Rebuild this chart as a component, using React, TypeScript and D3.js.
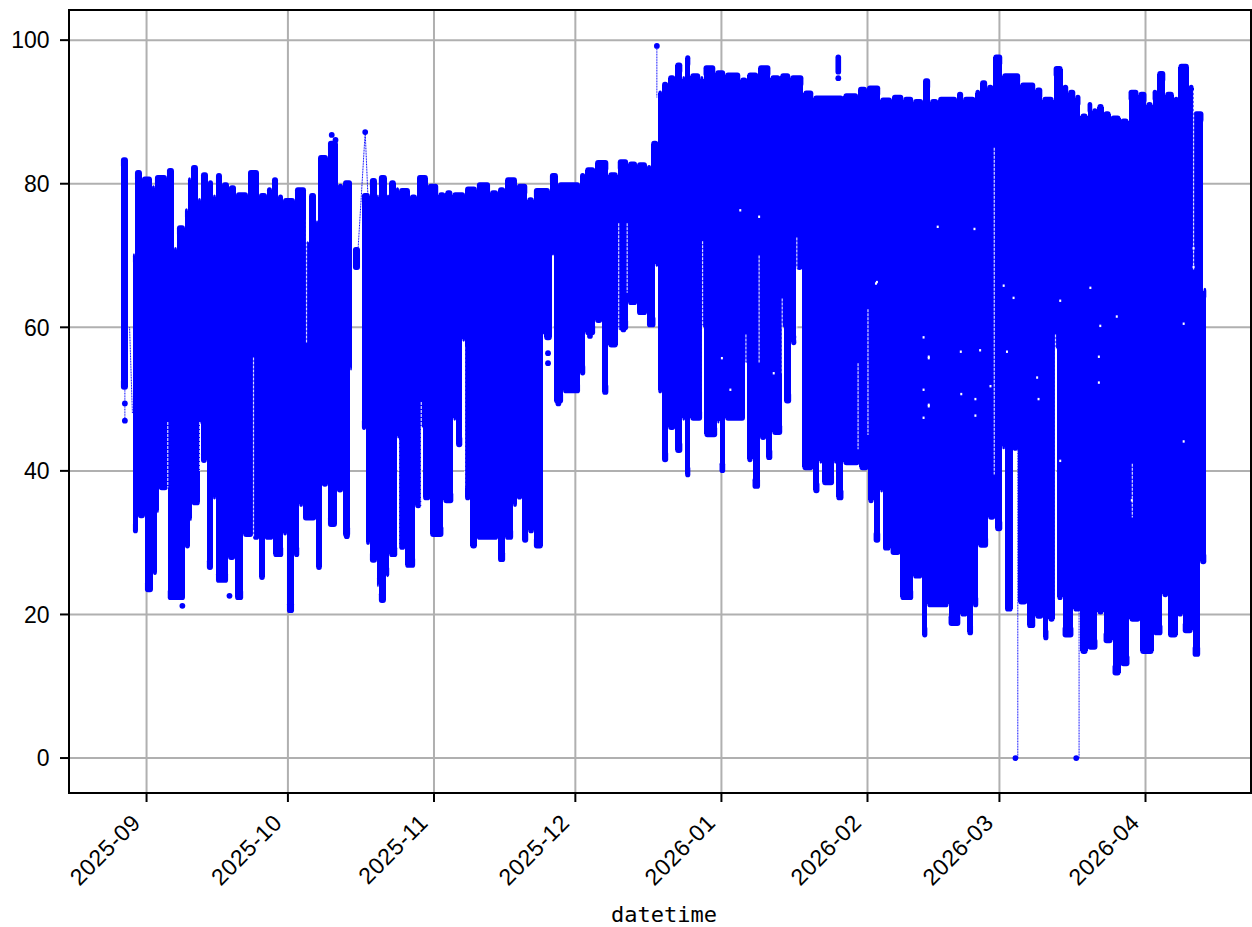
import React from "react";
import * as d3 from "d3";

const startDay = Date.UTC(2025, 8, 1);
const domainStart = new Date(Date.UTC(2025, 7, 15, 13));
const domainEnd = new Date(Date.UTC(2026, 3, 23, 14, 24));
const yMin = -4.87;
const yMax = 104.2;
const yTicks = [0, 20, 40, 60, 80, 100];
const monthTicks = ["2025-09", "2025-10", "2025-11", "2025-12", "2026-01", "2026-02", "2026-03", "2026-04"];

// upper envelope of the readings (days since 2025-09-01); null ends a run
const topDays = [-5.44,-3.95,-2.89,-2.46,-0.98,1.15,1.78,4.33,5.82,6.45,8.15,8.79,9.43,10.91,11.55,13.04,14.1,14.73,16,17.49,18.98,21.53,23.86,25.56,26.62,27.9,28.96,31.5,33.84,34.5,35.96,36.4,38.5,40.6,41.7,43.6,
45.7,47.4,48.9,49.3,51,51.5,52.9,53.6,55.9,57.4,59.7,61.9,63.4,64.9,67.6,70.1,72.9,74.6,76.1,78.6,80.8,82.2,85.6,87.3,92,93.1,95.2,98,100,102.2,104.1,106.2,107.1,108.6,109.4,110.7,112.2,113.7,114.3,115.4,117.5,118.2,120.7,122.8,126,127.5,129.8,132.4,134.5,136.6,139.4,141.5,147.9,151,152.9,155.7,158.2,160.6,162.7,164.8,166.3,168,172,173.3,175.9,176.9,178.4,179.7,181.6,185.4,188.6,190.1,192.5,194.4,195.6,197.1,198.2,199.7,200.7,201.8,203.1,204.6,206.7,208.4,210.5,212.2,213.5,214.5,216.2,218,219,221.2,222.2,224.3,224.9];
const topValues = [83.7,null,70.3,81.9,81,79.8,81.2,82.2,71.2,74.2,76.6,80.9,82.6,78,81.6,80.5,78.5,81.5,80.2,79.8,78.8,81.9,78.7,79.5,80.9,78.5,78,79.5,72,78.7,74.9,84,86,80,80.5,null,
78.7,80.8,78.5,81.2,78.5,80.5,79.5,79.4,78.5,81.2,80,78.8,79.1,78.8,79.6,80.2,79.1,79.5,80.9,80,78.1,79.4,81.5,80.2,81.5,82.3,83.3,81.6,83.4,83.1,83,82.6,86,93,94.2,95.1,96.9,95,97.9,95.4,95,96.5,95.8,95.5,94.8,95.5,96.5,95.1,95.4,95.1,93,92.3,92.6,93.5,93.7,92,92.4,92.1,91.8,94.7,91.8,92.1,92.8,92.1,93.1,94.4,93.8,98,95.4,94.1,93.4,92.1,96.4,93.8,93.1,92.4,89.8,91.4,90.5,91.1,90.1,89.5,89.1,93.1,92.8,91.4,93.1,95.7,92.8,92.1,96.7,93.8,90.1,65.5,null];

// lower envelope of the readings
const bottomDays = [-5.44,-3.95,-2.89,-1.83,-0.34,1.36,2.2,2.6,4.5,8.15,9.2,9.6,11.3,11.55,12.8,14.1,14.73,17.3,18.8,20.5,22.6,23.9,25.1,26.9,29,29.8,31.3,32.4,33.2,36,37.2,38.5,40.4,41.7,43.2,43.6,
45.7,46.6,47.4,48.9,49.3,50.8,51.5,53.2,53.6,54.9,57,58.3,58.7,60.2,63,65.1,65.7,67,67.6,68.7,70.1,74.6,76.1,77.8,78.6,79.7,81,82.2,84.1,84.4,86,86.5,88.4,92,93.1,95.2,96.7,98,100,102.2,104.1,106.2,108,108.6,109.4,110.7,112.2,113.7,114.3,115.4,117.9,118.4,121.1,121.6,122.8,127,127.5,128.6,130.2,131.5,132.8,134.9,135.3,136.8,137.9,139.2,141.5,142.8,143.4,145.9,146.4,147.9,151.3,153.2,154.3,155.7,156.3,157.9,160,162.7,164.6,165.7,170.2,172.7,174.2,175.4,176.5,178.6,180.1,181.6,182.2,183.8,185,186.9,188.6,190.3,191.4,192.7,193.3,194.4,196.7,198.2,199.7,201.8,203.1,205,206.7,208.6,210.9,213.7,215.6,216.8,218.8,219.9,222,223.6,224.9];
const bottomValues = [51.3,null,31.3,33.4,23.1,25.5,34.1,37.3,22,29.2,33,35.2,46.5,41.1,26.2,36,24.4,27.6,22,30.8,30.4,24.8,30.4,28,31,20.2,28,35,33.1,26.2,37.8,32.2,37,30.8,54,null,
45.7,29.7,27.2,23.8,21.6,25.2,28,44.5,29,26.5,34.8,46,35.9,30.8,35.5,47,43.3,58,35.9,29.2,30.4,27.3,30.4,35,36,30,31.3,29.2,59,58.2,70,49.4,50.8,53.3,58.9,60.6,50.6,57.2,59.6,63.1,61.7,60,68.4,50.8,41.2,45.7,42.5,47,39.1,47,60,44.7,46.6,39.7,47,55,41.2,37.5,44.3,41.5,45,60,49.4,57.5,68,40.1,36.9,41,38,41,35.9,40.8,40.1,35.5,30,37,28.9,28.3,22,25,16.8,21,18.4,19.7,17.1,21,29.3,33.2,31.6,43,20.4,42.8,21.4,18.1,19.4,16.4,19,57,22,16.8,20.4,14.5,15.1,20,16,11.5,12.8,19,14.5,17.1,22.4,16.8,19.7,17.4,14.1,27,null];

// runs detached from the envelope: [from day, to day, high, low]
const detachedRuns = [[43.8, 45.3, 71.2, 68], [146.2, 147.4, 98, 95.2]];

// isolated readings: [day, value]
const isolatedPoints = [[-4.6,49.4],[-4.6,47],[39.3,86.8],[40.1,86.1],[46.4,87.2],[108.3,99.2],[146.8,94.7],[184.4,0],[197.3,0],[7.6,21.2],[17.6,22.6],[42.5,30.9],[39.4,32.7],[85.2,56.4],[85.2,55],[87.4,49.4],[94.1,58.8],[101.2,59.7]];

// thin joining lines between readings: [day, value, day, value]
const joinLines = [[-4.6,51.3,-4.6,47],[-3.6,60,-3,48],[44.9,71,46.4,87.2],[46.4,87.2,47,78],[108.3,99.2,108.3,92],[184.4,0,184.9,0],[184.9,0,184.9,47],[197.3,0,197.9,0],[197.9,0,197.9,30]];

// narrow quiet spells showing through: [day, high, low]
const quietSpells = [[33.95,75,57.8],[22.7,55.8,30.8],[4.5,46.8,37.7],[11.3,46.8,40],[53.5,44.3,29],[58.3,49.6,34.5],[67.5,57.3,37.7],[86.2,68.7,56.4],[100.2,74.5,58.6],[102,74.5,64.8],[118,72,50.8],[130,70,55],[134.9,64,53.6],[127.2,59,49],[138,72.5,58],[151,55,43],[153.1,62.5,45],[179.9,85,39.5],[192.9,59,22],[222.2,93,68],[209.2,41,33.5]];

// single missing spots inside the band: [day, value]
const missingSpots = [[167.9,74],[175.7,73.7],[154.8,66.1],[164.9,58.6],[166,55.9],[172.8,56.6],[176.9,56.8],[166,49],[164.9,47.4],[175.9,50],[175.9,47.7],[172.9,50.7],[179.1,51.8],[182.6,56.6],[184,64.1],[181.9,65.8],[193.9,63.7],[189,53],[189.3,50],[193.9,41.4],[202.4,60.2],[205.9,61.5],[200.3,65.5],[202.1,55.9],[202.1,52.3],[220.1,60.5],[220.1,44.1],[209.1,35.9],[222.2,71],[222.2,68.4],[126,76.3],[130,75.4],[133.1,53.6],[122.1,55.7],[123.9,51.3],[155,66.3],[164.9,51.3],[166,55.7],[166,49.2]];

const WIDTH = 1252, HEIGHT = 927;
const LEFT = 69, RIGHT = 1251, TOP = 10, BOTTOM = 793;
const BLUE = "#0000ff";
const GRID = "#b0b0b0";
const R = 2.9;

const x = d3.scaleUtc().domain([domainStart, domainEnd]).range([LEFT, 1252]);
const y = d3.scaleLinear().domain([yMin, yMax]).range([BOTTOM, TOP]);
const xd = (d: number) => x(new Date(startDay + d * 864e5));

const stepAt = (days: number[], vals: (number | null)[], d: number) => vals[d3.bisectRight(days, d + 1e-6) - 1];
const allDays = Array.from(new Set([...topDays, ...bottomDays])).sort((a, b) => a - b);

export default function App() {
  const labelFont = "'Liberation Sans', Arial, sans-serif";
  return (
    <svg width={WIDTH} height={HEIGHT} style={{ position: "fixed", left: 0, top: 0, display: "block", background: "#fff" }}>
      <defs>
        <clipPath id="plot"><rect x={LEFT} y={TOP} width={RIGHT - LEFT} height={BOTTOM - TOP} /></clipPath>
      </defs>
      {yTicks.map(t => <line key={t} x1={LEFT} x2={RIGHT} y1={y(t)} y2={y(t)} stroke={GRID} strokeWidth={2} />)}
      {monthTicks.map(t => {
        const px = x(new Date(t + "-01T00:00:00Z"));
        return <line key={t} x1={px} x2={px} y1={TOP} y2={BOTTOM} stroke={GRID} strokeWidth={2} />;
      })}
      <g clipPath="url(#plot)" fill={BLUE}>
        {allDays.slice(0, -1).map((d, i) => {
          const hi = stepAt(topDays, topValues, d);
          const lo = stepAt(bottomDays, bottomValues, d);
          if (hi == null || lo == null) return null;
          return <rect key={i} x={xd(d)} width={xd(allDays[i + 1]) - xd(d)} y={y(hi) + R} height={Math.max(0, y(lo) - y(hi) - 2 * R)} shapeRendering="crispEdges" />;
        })}
        {topDays.slice(0, -1).map((d, i) => {
          const v = topValues[i];
          if (v == null) return null;
          return <rect key={i} x={xd(d)} width={xd(topDays[i + 1]) - xd(d)} y={y(v)} height={R * 4} rx={R} />;
        })}
        {bottomDays.slice(0, -1).map((d, i) => {
          const v = bottomValues[i];
          if (v == null) return null;
          return <rect key={i} x={xd(d)} width={xd(bottomDays[i + 1]) - xd(d)} y={y(v) - R * 4} height={R * 4} rx={R} />;
        })}
        {detachedRuns.map((r, i) => <rect key={i} x={xd(r[0])} width={xd(r[1]) - xd(r[0])} y={y(r[2])} height={y(r[3]) - y(r[2])} rx={R} />)}
      </g>
      <g clipPath="url(#plot)">
        {quietSpells.map((s, i) => <line key={i} x1={xd(s[0])} x2={xd(s[0])} y1={y(s[1])} y2={y(s[2])} stroke="#fff" strokeWidth={1.2} strokeDasharray="3 1" opacity={0.85} />)}
        {missingSpots.map((s, i) => <rect key={i} x={xd(s[0]) - 1} y={y(s[1]) - 1.2} width={2} height={2.4} fill="#fff" />)}
        {joinLines.map((l, i) => <line key={i} x1={xd(l[0])} y1={y(l[1])} x2={xd(l[2])} y2={y(l[3])} stroke={BLUE} strokeWidth={1} strokeDasharray="1 0.6" />)}
        {isolatedPoints.map((p, i) => <circle key={i} cx={xd(p[0])} cy={y(p[1])} r={R} fill={BLUE} />)}
      </g>
      <rect x={LEFT} y={TOP} width={RIGHT - LEFT} height={BOTTOM - TOP} fill="none" stroke="#000" strokeWidth={2} />
      {yTicks.map(t => (
        <g key={t}>
          <line x1={LEFT - 9} x2={LEFT} y1={y(t)} y2={y(t)} stroke="#000" strokeWidth={2} />
          <text x={LEFT - 19.5} y={y(t)} dy="0.36em" textAnchor="end" fontFamily={labelFont} fontSize={23} fill="#000">{t}</text>
        </g>
      ))}
      {monthTicks.map(t => {
        const px = x(new Date(t + "-01T00:00:00Z"));
        return (
          <g key={t}>
            <line x1={px} x2={px} y1={BOTTOM} y2={BOTTOM + 9} stroke="#000" strokeWidth={2} />
            <text transform={`translate(${px - 4.5},${BOTTOM + 31}) rotate(-45)`} textAnchor="end" fontFamily={labelFont} fontSize={23} letterSpacing={0.6} fill="#000">{t}</text>
          </g>
        );
      })}
      <text x={664} y={921.5} textAnchor="middle" fontFamily="'DejaVu Sans Mono', monospace" fontSize={22} fill="#000">datetime</text>
    </svg>
  );
}
